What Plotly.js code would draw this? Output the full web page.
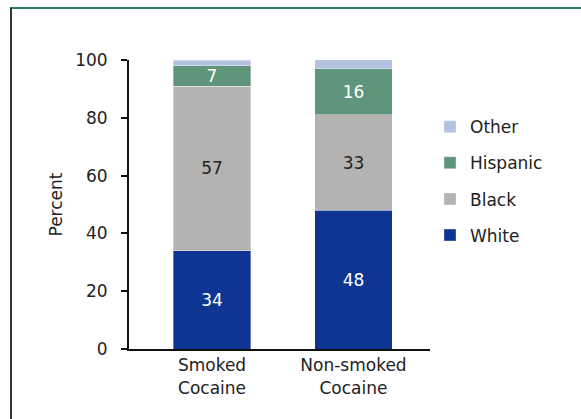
<!DOCTYPE html>
<html>
<head>
<meta charset="utf-8">
<script src="https://cdn.plot.ly/plotly-3.0.1.min.js"></script>
<style>
  html, body { margin: 0; padding: 0; background: #fff; }
  #wrap { position: relative; width: 581px; height: 419px; overflow: hidden; }
  #chart { position: absolute; left: 0; top: 0; width: 581px; height: 419px; }
  #frame { position: absolute; left: 10px; top: 7px; width: 600px; height: 440px;
           border-left: 2px solid #333333; border-top: 2px solid #2f7d58; pointer-events: none; }
</style>
</head>
<body>
<div id="wrap">
  <div id="chart"></div>
  <div id="frame"></div>
</div>
<script>
const categories = ['Smoked<br>Cocaine', 'Non-smoked<br>Cocaine'];
const seriesNames = ['White', 'Black', 'Hispanic', 'Other'];
const white = [34, 48];
const black = [57, 33];
const hispanic = [7, 16];
const other = [2, 4];
const colors = ['#0d3591', '#b4b3b1', '#5f957a', '#b5c1e1'];
const textColors = ['#ffffff', '#222222', '#ffffff', '#222222'];
const showLabel = [true, true, true, false];
const legendRanks = [4, 3, 2, 1];

const values = [white, black, hispanic, other];
const FONT = 'DejaVu Sans, Arial, sans-serif';

const traces = values.map((v, i) => ({
  type: 'bar',
  name: seriesNames[i],
  x: categories,
  y: v,
  width: 0.55,
  marker: { color: colors[i], line: { width: 0.6, color: 'rgba(255,255,255,0.6)' } },
  text: showLabel[i] ? v.map(String) : v.map(() => ''),
  textposition: 'inside',
  insidetextanchor: 'middle',
  textangle: 0,
  constraintext: 'none',
  textfont: { family: FONT, size: 17, color: textColors[i] },
  legendgroup: 'g' + i,
  legendrank: legendRanks[i],
  hoverinfo: 'none'
}));

const layout = {
  width: 581,
  height: 419,
  margin: { l: 129, r: 151, t: 60, b: 70, pad: 0 },
  paper_bgcolor: '#ffffff',
  plot_bgcolor: '#ffffff',
  barmode: 'stack',
  font: { family: FONT, size: 17, color: '#222222' },
  showlegend: true,
  legend: {
    x: 1.0, xanchor: 'left',
    y: 0.83, yanchor: 'top',
    traceorder: 'grouped',
    tracegroupgap: 11,
    font: { family: FONT, size: 17, color: '#222222' },
    bgcolor: 'rgba(0,0,0,0)'
  },
  xaxis: {
    type: 'category',
    range: [-0.587, 1.541],
    showgrid: false,
    zeroline: false,
    showline: true,
    linecolor: '#111111',
    linewidth: 2,
    ticks: '',
    tickfont: { family: FONT, size: 17, color: '#222222' }
  },
  yaxis: {
    range: [0, 100],
    tickvals: [0, 20, 40, 60, 80, 100],
    showgrid: false,
    zeroline: false,
    showline: true,
    linecolor: '#111111',
    linewidth: 2,
    ticks: 'outside',
    ticklen: 6,
    tickwidth: 2,
    tickcolor: '#111111',
    ticklabelstandoff: 10,
    tickfont: { family: FONT, size: 17, color: '#222222' },
    title: { text: 'Percent', font: { family: FONT, size: 17, color: '#222222' }, standoff: 8 }
  }
};

Plotly.newPlot('chart', traces, layout, { staticPlot: true, displayModeBar: false });
</script>
</body>
</html>
